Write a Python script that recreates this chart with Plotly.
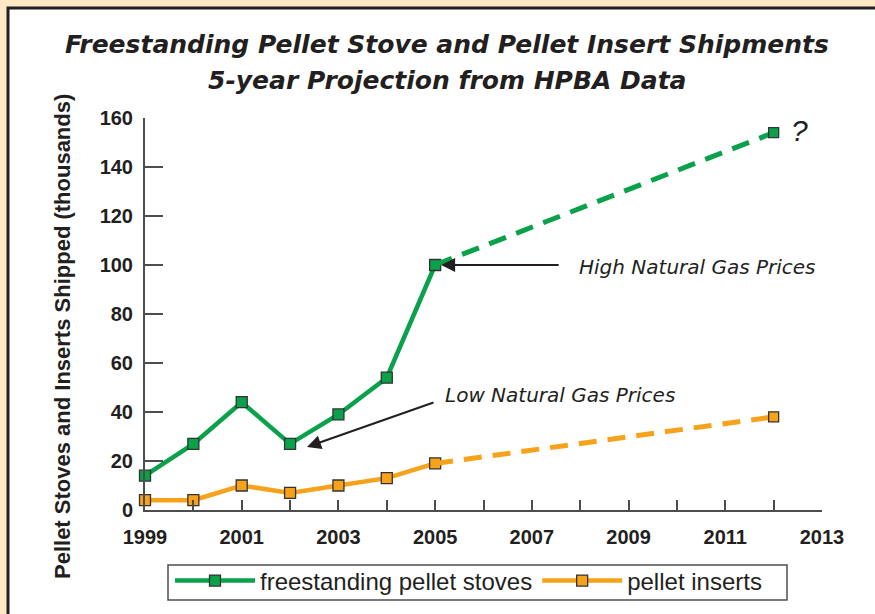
import plotly.graph_objects as go

# shipments in thousands
years_hist = [1999, 2000, 2001, 2002, 2003, 2004, 2005]
stoves_hist = [14, 27, 44, 27, 39, 54, 100]
inserts_hist = [4, 4, 10, 7, 10, 13, 19]

years_proj = [2005, 2012]
stoves_proj = [100, 154]
inserts_proj = [19, 38]

tick_years = list(range(1999, 2014))
tick_labels = [str(y) if (y - 1999) % 2 == 0 else "" for y in tick_years]

GREEN = "#0aa14b"
ORANGE = "#f7a21b"
INK = "#231f20"
AXIS = "#4d4d4d"

W, H = 875, 614
L, R, T, B = 145, 53, 118, 104
pw, ph = W - L - R, H - T - B


def px(x):  # pixel -> paper x
    return (x - L) / pw


def py(y):  # pixel -> paper y
    return (H - B - y) / ph


marker_style = dict(symbol="square", size=11, line=dict(color="#333333", width=1.3))

fig = go.Figure()

fig.add_trace(go.Scatter(
    x=years_hist, y=stoves_hist, mode="lines+markers",
    name="freestanding pellet stoves",
    line=dict(color=GREEN, width=4.5),
    marker=dict(color=GREEN, **marker_style),
    cliponaxis=False,
))
fig.add_trace(go.Scatter(
    x=years_hist, y=inserts_hist, mode="lines+markers",
    name="pellet inserts",
    line=dict(color=ORANGE, width=4.5),
    marker=dict(color=ORANGE, **marker_style),
    cliponaxis=False,
))

# projections: dashed, marker only at the end
for ys, col in [(stoves_proj, GREEN), (inserts_proj, ORANGE)]:
    fig.add_trace(go.Scatter(
        x=years_proj, y=ys, mode="lines",
        line=dict(color=col, width=5, dash="18px,11px"),
        showlegend=False, cliponaxis=False,
    ))
    fig.add_trace(go.Scatter(
        x=years_proj[-1:], y=ys[-1:], mode="markers",
        marker=dict(color=col, symbol="square", size=10,
                    line=dict(color="#333333", width=1.3)),
        showlegend=False, cliponaxis=False,
    ))

# white panel with dark frame over the beige background
fig.add_shape(
    type="rect", xref="paper", yref="paper", layer="below",
    x0=px(8), x1=px(W + 10), y0=py(H + 10), y1=py(8),
    fillcolor="white", line=dict(color=INK, width=3),
)
# legend frame
fig.add_shape(
    type="rect", xref="paper", yref="paper", layer="below",
    x0=px(168), x1=px(787), y0=py(600), y1=py(565),
    fillcolor="white", line=dict(color=AXIS, width=1.5),
)


def note(x, y, text, font, **kw):
    fig.add_annotation(xref="paper", yref="paper", x=px(x), y=py(y), text=text,
                       showarrow=False, font=font, yanchor="middle", **kw)


title_font = dict(family="DejaVu Sans", size=25, color=INK, style="italic", weight="bold")
note(447, 45, "Freestanding Pellet Stove and Pellet Insert Shipments", title_font,
     xanchor="center")
note(447, 80, "5-year Projection from HPBA Data", title_font, xanchor="center")

note(62, 337, "Pellet Stoves and Inserts Shipped (thousands)",
     dict(family="Liberation Sans", size=22, color=INK, weight="bold"),
     xanchor="center", textangle=-90)

note_font = dict(family="DejaVu Sans", size=20, color=INK, style="italic")
note(577, 267, "High Natural Gas Prices", note_font, xanchor="left")
note(443, 395, "Low Natural Gas Prices", note_font, xanchor="left")

# arrows (text-less annotations)
fig.add_annotation(x=years_hist[-1], y=stoves_hist[-1], text="",
                   ax=560 - 435, ay=0, standoff=6,
                   showarrow=True, arrowhead=2, arrowsize=1.4, arrowwidth=2,
                   arrowcolor=INK)
fig.add_annotation(xref="paper", yref="paper", x=px(307), y=py(447), text="",
                   ax=435 - 307, ay=402 - 447,
                   showarrow=True, arrowhead=2, arrowsize=1.4, arrowwidth=2,
                   arrowcolor=INK)

fig.add_annotation(x=years_proj[-1], y=stoves_proj[-1], text="?",
                   xshift=26, yshift=2, showarrow=False,
                   xanchor="center", yanchor="middle",
                   font=dict(family="Liberation Sans", size=30, color=INK, style="italic"))

fig.update_layout(
    width=W, height=H,
    margin=dict(l=L, r=R, t=T, b=B, autoexpand=False),
    paper_bgcolor="#fde8c6",
    plot_bgcolor="rgba(0,0,0,0)",
    showlegend=True,
    legend=dict(
        orientation="h", xref="paper", yref="paper",
        x=px(170), y=py(581), xanchor="left", yanchor="middle",
        bgcolor="rgba(0,0,0,0)", borderwidth=0,
        font=dict(family="Liberation Sans", size=24, color=INK),
        itemwidth=80,
    ),
    xaxis=dict(
        range=[1999, 2013], tickvals=tick_years, ticktext=tick_labels,
        ticks="inside", ticklen=10, tickwidth=1.5, tickcolor=AXIS,
        showline=True, linecolor=AXIS, linewidth=2, automargin=False,
        showgrid=False, zeroline=False, ticklabelstandoff=8,
        tickfont=dict(family="Liberation Sans", size=20, color=INK, weight="bold"),
    ),
    yaxis=dict(
        range=[0, 160], dtick=20,
        ticks="inside", ticklen=18, tickwidth=1.5, tickcolor=AXIS,
        showline=True, linecolor=AXIS, linewidth=2, automargin=False,
        showgrid=False, zeroline=False, ticklabelstandoff=6,
        tickfont=dict(family="Liberation Sans", size=20, color=INK, weight="bold"),
    ),
)

fig.write_html("out.html", config={"displayModeBar": False},
               post_script="document.body.style.margin='0';")
